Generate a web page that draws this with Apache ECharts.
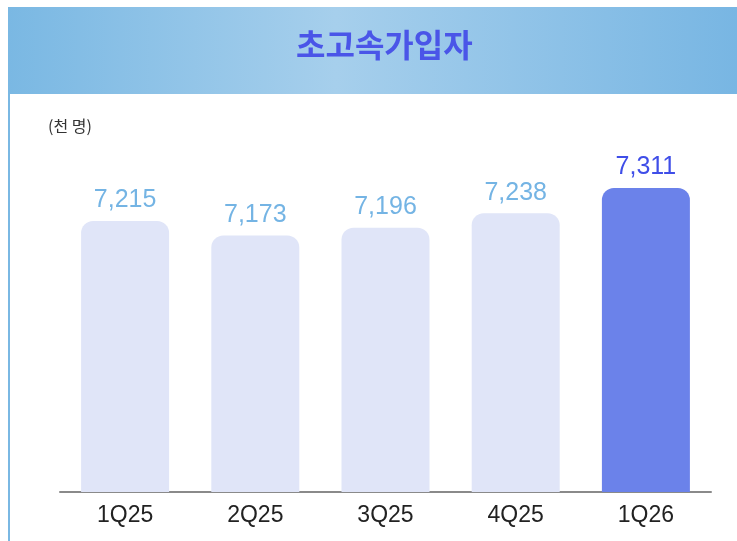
<!DOCTYPE html>
<html>
<head>
<meta charset="utf-8">
<script src="https://cdn.jsdelivr.net/npm/echarts@6/dist/echarts.min.js"></script>
<style>
  html, body { margin: 0; padding: 0; background: #fff; }
  #chart { width: 737px; height: 541px; }
</style>
</head>
<body>
<div id="chart"></div>
<script>
// 분기별 초고속 가입자 (천 명)
var quarters = ['1Q25', '2Q25', '3Q25', '4Q25', '1Q26'];
var subscribers = [7215, 7173, 7196, 7238, 7311];
var highlightIndex = 4;

var barLight = '#e0e5f8', barDark = '#6b82ea';
var labelLight = '#74b4e4', labelDark = '#3f4ee8';

var myChart = echarts.init(document.getElementById('chart'));

var option = {
  backgroundColor: '#fff',
  animation: false,
  title: {
    text: '초고속가입자',
    left: 291,
    top: 24,
    textStyle: {
      color: '#4a55e8',
      fontSize: 32,
      fontWeight: 'bold',
      fontFamily: 'Noto Sans CJK KR'
    }
  },
  graphic: [
    { //헤더 배경
      type: 'rect', z: -1,
      shape: { x: 8, y: 7, width: 729, height: 87 },
      style: {
        fill: new echarts.graphic.LinearGradient(0, 0, 1, 0, [
          { offset: 0, color: '#7ab8e3' },
          { offset: 0.45, color: '#a6cfec' },
          { offset: 1, color: '#78b6e3' }
        ])
      }
    },
    { //왼쪽 테두리
      type: 'line', z: -1,
      shape: { x1: 9, y1: 94, x2: 9, y2: 541 },
      style: { stroke: '#7ab8e3', lineWidth: 2 }
    },
    {
      type: 'text', left: 48, top: 118,
      style: { text: '(천 명)', fill: '#333', fontSize: 16, fontFamily: 'Noto Sans CJK KR' }
    }
  ],
  grid: { left: 60, right: 26, top: 150, bottom: 49 },
  xAxis: {
    type: 'category',
    data: quarters,
    axisTick: { show: false },
    axisLine: { lineStyle: { color: '#8a8a8a', width: 2 } },
    axisLabel: { color: '#222', fontSize: 23, margin: 12, fontFamily: 'Liberation Sans' }
  },
  yAxis: {
    type: 'value',
    min: 6430,
    max: 7421,
    show: false,
    splitLine: { show: false }
  },
  series: [{
    type: 'bar',
    barWidth: 88,
    data: subscribers.map(function(v, i) {
      var hi = i === highlightIndex;
      return {
        value: v,
        itemStyle: { color: hi ? barDark : barLight, borderRadius: [12, 12, 0, 0] },
        label: { color: hi ? labelDark : labelLight }
      };
    }),
    label: {
      show: true,
      position: 'top',
      distance: 8,
      fontSize: 25,
      fontFamily: 'Liberation Sans',
      formatter: function(p) { return p.value.toLocaleString('en-US'); }
    }
  }]
};

myChart.setOption(option);
</script>
</body>
</html>
